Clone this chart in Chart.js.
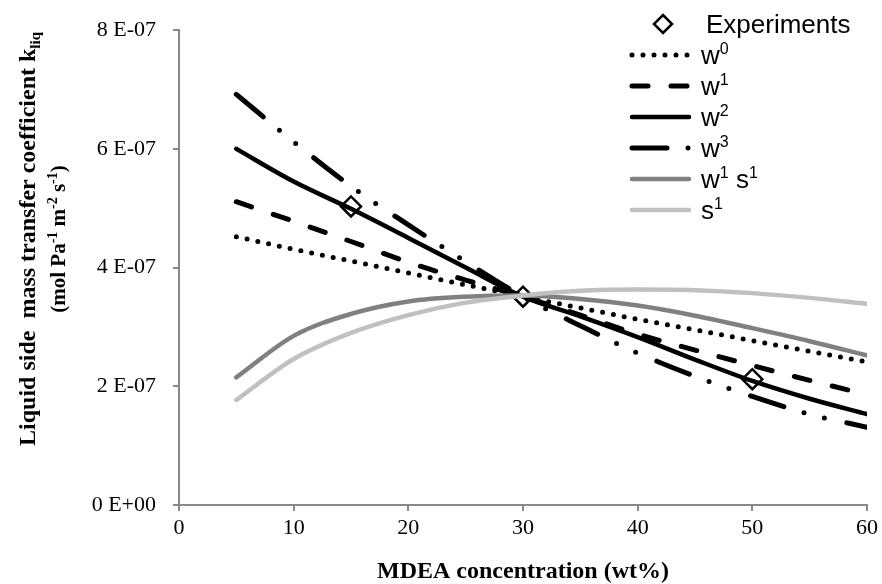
<!DOCTYPE html>
<html>
<head>
<meta charset="utf-8">
<script src="https://cdn.jsdelivr.net/npm/chart.js@4/dist/chart.umd.min.js"></script>
<style>
  body { margin: 0; background: #fff; }
  canvas { display: block; }
</style>
</head>
<body>
<canvas id="kliqChart" width="882" height="584"></canvas>
<script>
// MDEA concentration (wt%) where the model curves were evaluated
var conc = [5, 10, 15, 20, 25, 30, 35, 40, 45, 50, 55, 60];

// model curves, k_liq in mol Pa-1 m-2 s-1
var w0   = [4.52e-7, 4.31e-7, 4.11e-7, 3.91e-7, 3.71e-7, 3.51e-7, 3.32e-7, 3.13e-7, 2.95e-7, 2.77e-7, 2.59e-7, 2.41e-7];
var w1   = [5.11e-7, 4.78e-7, 4.44e-7, 4.09e-7, 3.79e-7, 3.51e-7, 3.20e-7, 2.88e-7, 2.61e-7, 2.35e-7, 2.10e-7, 1.86e-7];
var w2   = [6.00e-7, 5.45e-7, 4.99e-7, 4.50e-7, 4.00e-7, 3.51e-7, 3.18e-7, 2.83e-7, 2.45e-7, 2.09e-7, 1.79e-7, 1.53e-7];
var w3   = [6.92e-7, 6.12e-7, 5.37e-7, 4.72e-7, 4.10e-7, 3.51e-7, 3.02e-7, 2.56e-7, 2.17e-7, 1.83e-7, 1.53e-7, 1.31e-7];
var w1s1 = [2.15e-7, 2.85e-7, 3.22e-7, 3.43e-7, 3.51e-7, 3.53e-7, 3.47e-7, 3.36e-7, 3.19e-7, 2.98e-7, 2.76e-7, 2.52e-7];
var s1   = [1.77e-7, 2.46e-7, 2.90e-7, 3.20e-7, 3.41e-7, 3.53e-7, 3.61e-7, 3.63e-7, 3.62e-7, 3.57e-7, 3.49e-7, 3.39e-7];

// experiments
var expConc = [15, 30, 50];
var expK    = [5.03e-7, 3.51e-7, 2.12e-7];

var xTicks = [0, 10, 20, 30, 40, 50, 60];
var yTicks = [0, 2e-7, 4e-7, 6e-7, 8e-7];

function pts(xs, ys) {
  return xs.map(function (x, i) { return { x: x, y: ys[i] }; });
}

function sci(v) {
  if (v === 0) return '0 E+00';
  var e = Math.floor(Math.log10(v) + 1e-9);
  var m = Math.round(v / Math.pow(10, e));
  var s = e < 0 ? '-' : '+';
  var a = Math.abs(e);
  return m + ' E' + s + (a < 10 ? '0' : '') + a;
}

function curve(label, ys, color, width, dash, order) {
  return {
    label: label,
    data: pts(conc, ys),
    borderColor: color,
    borderWidth: width,
    borderDash: dash,
    borderCapStyle: 'round',
    fill: false,
    pointRadius: 0,
    cubicInterpolationMode: 'monotone',
    order: order
  };
}

var dsets = [
  {
    label: 'Experiments',
    data: pts(expConc, expK),
    showLine: false,
    pointStyle: 'rectRot',
    pointRadius: 10,
    pointBackgroundColor: '#fff',
    pointBorderColor: '#000',
    pointBorderWidth: 2.5,
    order: 7
  },
  curve('w0', w0, '#000', 5, [0, 11], 6),
  curve('w1', w1, '#000', 5, [16, 23], 5),
  curve('w2', w2, '#000', 4.5, [], 4),
  curve('w3', w3, '#000', 5, [35, 21, 0, 21, 0, 23], 3),
  curve('w1s1', w1s1, '#808080', 4.5, [], 2),
  curve('s1', s1, '#c0c0c0', 4.5, [], 1)
];

// legend text pieces: [text, 'sup' | 'sub' | '']
var legendText = [
  [['Experiments', '']],
  [['w', ''], ['0', 'sup']],
  [['w', ''], ['1', 'sup']],
  [['w', ''], ['2', 'sup']],
  [['w', ''], ['3', 'sup']],
  [['w', ''], ['1', 'sup'], [' s', ''], ['1', 'sup']],
  [['s', ''], ['1', 'sup']]
];

function richWidth(ctx, parts, big, small) {
  var w = 0;
  parts.forEach(function (p) {
    ctx.font = p[1] ? small : big;
    w += ctx.measureText(p[0]).width;
  });
  return w;
}

function drawRich(ctx, x, y, parts, big, small, up, down) {
  parts.forEach(function (p) {
    ctx.font = p[1] ? small : big;
    var dy = p[1] === 'sup' ? -up : (p[1] === 'sub' ? down : 0);
    ctx.fillText(p[0], x, y + dy);
    x += ctx.measureText(p[0]).width;
  });
}

var decor = {
  id: 'decor',
  afterDraw: function (chart) {
    var ctx = chart.ctx;
    ctx.save();
    ctx.fillStyle = '#000';
    ctx.textBaseline = 'alphabetic';
    ctx.textAlign = 'left';

    // legend
    var big = '26px "Liberation Sans", Arial, sans-serif';
    var small = '16px "Liberation Sans", Arial, sans-serif';
    for (var i = 0; i < dsets.length; i++) {
      var d = dsets[i];
      var ry = 24 + i * 31;
      if (i === 0) {
        ctx.beginPath();
        ctx.moveTo(663, ry - 9); ctx.lineTo(672, ry); ctx.lineTo(663, ry + 9); ctx.lineTo(654, ry);
        ctx.closePath();
        ctx.fillStyle = '#fff'; ctx.fill();
        ctx.lineWidth = 2.5; ctx.strokeStyle = '#000'; ctx.stroke();
        ctx.fillStyle = '#000';
      } else {
        ctx.beginPath();
        ctx.setLineDash(d.borderDash);
        ctx.lineDashOffset = 0;
        ctx.lineCap = 'round';
        ctx.lineWidth = d.borderWidth;
        ctx.strokeStyle = d.borderColor;
        ctx.moveTo(632, ry);
        ctx.lineTo(689, ry);
        ctx.stroke();
        ctx.setLineDash([]);
      }
      drawRich(ctx, i === 0 ? 706 : 701, ry + 9, legendText[i], big, small, 10, 0);
    }

    // axis titles
    var tb = 'bold 24px "Liberation Serif", "Times New Roman", serif';
    var ts = 'bold 15px "Liberation Serif", "Times New Roman", serif';
    var xt = [['MDEA concentration (wt%)', '']];
    var wx = richWidth(ctx, xt, tb, ts);
    drawRich(ctx, 523 - wx / 2, 578, xt, tb, ts, 0, 0);

    var l1 = [['Liquid side  mass transfer coefficient k', ''], ['liq', 'sub']];
    var tb2 = 'bold 21px "Liberation Serif", "Times New Roman", serif';
    var ts2 = 'bold 14px "Liberation Serif", "Times New Roman", serif';
    var l2 = [['(mol Pa', ''], ['-1', 'sup'], [' m', ''], ['-2', 'sup'], [' s', ''], ['-1', 'sup'], [')', '']];
    ctx.translate(0, 239);
    ctx.rotate(-Math.PI / 2);
    var w1w = richWidth(ctx, l1, tb, ts);
    drawRich(ctx, -w1w / 2, 35, l1, tb, ts, 8, 5);
    var w2w = richWidth(ctx, l2, tb2, ts2);
    drawRich(ctx, -w2w / 2, 65, l2, tb2, ts2, 8, 4);
    ctx.restore();
  }
};

var axisGrey = '#888888';
var tickFont = { family: '"Liberation Serif", "Times New Roman", serif', size: 22 };

new Chart(document.getElementById('kliqChart'), {
  type: 'line',
  data: { datasets: dsets },
  options: {
    responsive: false,
    animation: false,
    layout: { padding: { top: 22, right: 14, left: 0, bottom: 0 } },
    plugins: {
      legend: { display: false },
      tooltip: { enabled: false }
    },
    scales: {
      x: {
        type: 'linear',
        min: 0,
        max: 60,
        afterBuildTicks: function (s) { s.ticks = xTicks.map(function (v) { return { value: v }; }); },
        afterFit: function (s) { s.height = 79; },
        grid: { drawOnChartArea: false, drawTicks: true, tickLength: 6, color: axisGrey, lineWidth: 2 },
        border: { color: axisGrey, width: 2 },
        ticks: { color: '#000', font: tickFont, padding: 4, maxRotation: 0 }
      },
      y: {
        type: 'linear',
        min: 0,
        max: 8e-7,
        afterBuildTicks: function (s) { s.ticks = yTicks.map(function (v) { return { value: v }; }); },
        afterFit: function (s) { s.width = 179; },
        grid: { drawOnChartArea: false, drawTicks: true, tickLength: 6, color: axisGrey, lineWidth: 2 },
        border: { color: axisGrey, width: 2 },
        ticks: { color: '#000', font: tickFont, padding: 17, callback: function (v) { return sci(v); } }
      }
    }
  },
  plugins: [decor]
});
</script>
</body>
</html>
